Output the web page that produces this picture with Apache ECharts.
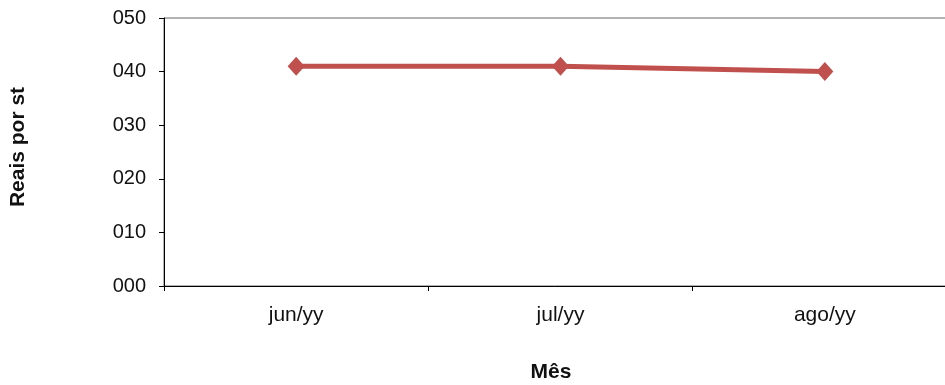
<!DOCTYPE html>
<html>
<head>
<meta charset="utf-8">
<script src="https://cdn.jsdelivr.net/npm/echarts@6/dist/echarts.min.js"></script>
<style>
  html, body { margin: 0; padding: 0; background: #fff; }
  #chart { width: 945px; height: 385px; }
</style>
</head>
<body>
<div id="chart"></div>
<script>
// Monthly price, reais per stere
const months = ['jun/yy', 'jul/yy', 'ago/yy'];
const prices = [41, 41, 40];
const yTicks = [0, 10, 20, 30, 40, 50];

const chart = echarts.init(document.getElementById('chart'));
const font = 'Liberation Sans, Arial, sans-serif';

chart.setOption({
  animation: false,
  grid: {
    left: 164, top: 18, width: 793, height: 268,
    outerBoundsMode: 'none',
    containLabel: false,
    show: true, borderColor: '#666', borderWidth: 1, backgroundColor: 'transparent'
  },
  xAxis: {
    type: 'category',
    data: months,
    boundaryGap: true,
    axisLine: { lineStyle: { color: '#000', width: 1 } },
    axisTick: { show: true, length: 5, lineStyle: { color: '#000' } },
    axisLabel: { color: '#111', fontSize: 21, fontFamily: font, margin: 19 }
  },
  yAxis: {
    type: 'value',
    min: yTicks[0], max: yTicks[yTicks.length - 1], interval: 10,
    axisLine: { show: true, lineStyle: { color: '#000', width: 1 } },
    axisTick: { show: true, length: 5, lineStyle: { color: '#000' } },
    splitLine: { show: false },
    axisLabel: {
      color: '#111', fontSize: 20, fontFamily: font, margin: 18,
      formatter: v => String(v).padStart(3, '0')
    }
  },
  graphic: [{
    type: 'text',
    x: 551, y: 372,
    style: { text: 'Mês', fill: '#111', font: 'bold 21px ' + font, align: 'center', verticalAlign: 'middle' }
  }, {
    type: 'text',
    x: 18, y: 147,
    rotation: Math.PI / 2,
    style: { text: 'Reais por st', fill: '#111', font: 'bold 21px ' + font, align: 'center', verticalAlign: 'middle' }
  }],
  series: [{
    type: 'line',
    data: prices,
    symbol: 'diamond',
    symbolSize: [17, 19],
    lineStyle: { color: '#C0504D', width: 5 },
    itemStyle: { color: '#C0504D' }
  }]
});
</script>
</body>
</html>
